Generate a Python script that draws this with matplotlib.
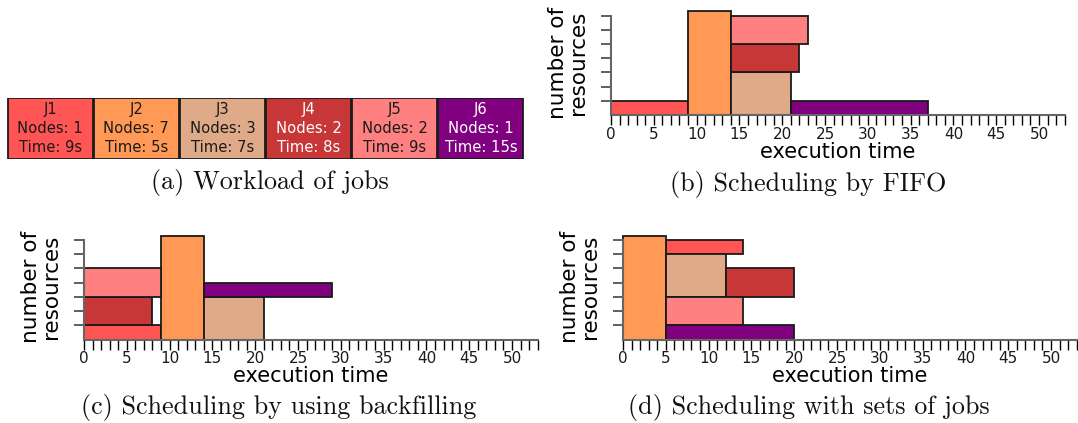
import matplotlib
matplotlib.use('Agg')
import matplotlib.pyplot as plt

# jobs of the workload
jobs = ['J1', 'J2', 'J3', 'J4', 'J5', 'J6']
nodes = [1, 7, 3, 2, 2, 1]
times = [9, 5, 7, 8, 9, 15]
colors = ['#ff5555', '#ff9955', '#deaa87', '#c83737', '#ff8080', '#800080']
text_colors = ['#1a1a1a', '#1a1a1a', '#1a1a1a', 'white', '#1a1a1a', 'white']

# drawn bar heights (J2 is drawn a bit taller than 7)
heights = [1, 7.3, 3, 2, 2, 1]

# (b) FIFO
fifo_start = [0, 9, 14, 14, 14, 21]
fifo_len = [9, 5, 7, 8, 9, 16]
fifo_bottom = [0, 0, 0, 3, 5, 0]

# (c) backfilling
bf_start = [0, 9, 14, 0, 0, 14]
bf_len = [9, 5, 7, 8, 9, 15]
bf_bottom = [0, 0, 0, 1, 3, 3]

# (d) sets of jobs
set_start = [5, 0, 5, 12, 5, 5]
set_len = [9, 5, 7, 8, 9, 15]
set_bottom = [6, 0, 3, 3, 1, 0]

captions = ['(a) Workload of jobs', '(b) Scheduling by FIFO',
            '(c) Scheduling by using backfilling', '(d) Scheduling with sets of jobs']

W, H = 1078, 423


def rect(x0, y_bottom, w, h):
    return [x0 / W, (H - y_bottom) / H, w / W, h / H]


def draw_schedule(ax, start, length, bottom):
    for i in range(len(jobs)):
        ax.barh(bottom[i], length[i], height=heights[i], left=start[i], align='edge',
                color=colors[i], edgecolor='#1a1a1a', linewidth=1.3, clip_on=False)
    ax.set_xlim(0, 53)
    ax.set_ylim(0, 7.35)
    ax.set_xticks(range(0, 54))
    ax.set_xticklabels([str(t) if t % 5 == 0 else '' for t in range(0, 54)])
    ax.set_yticks(range(1, 8))
    ax.set_yticklabels([])
    ax.tick_params(axis='x', direction='out', length=7, width=1, color='black',
                   labelsize=11, pad=1.5, labelcolor='#1a1a1a')
    ax.tick_params(axis='y', direction='out', length=7, width=1.2, color='#444444')
    for s in ['top', 'right']:
        ax.spines[s].set_visible(False)
    ax.spines['left'].set_bounds(0, 7)
    ax.spines['left'].set_color('#666666')
    ax.spines['bottom'].set_color('#666666')
    ax.spines['left'].set_linewidth(1.5)
    ax.spines['bottom'].set_linewidth(1.5)
    ax.set_xlabel('execution time', fontsize=15, labelpad=0)
    ax.set_ylabel('number of\nresources', fontsize=15.5, labelpad=6, linespacing=1.0)


fig = plt.figure(figsize=(W / 100, H / 100), dpi=100)
plt.rcParams['font.family'] = 'DejaVu Sans'

# (a) workload boxes
ax_a = fig.add_axes(rect(7, 159, 517, 61))
for i in range(len(jobs)):
    ax_a.bar(i + 0.5, 1, width=0.985, color=colors[i], edgecolor='#1a1a1a', linewidth=1.3)
    ax_a.text(i + 0.5, 0.5, '%s\nNodes: %d\nTime: %ds' % (jobs[i], nodes[i], times[i]),
              ha='center', va='center', fontsize=10.6, color=text_colors[i], linespacing=1.3)
ax_a.set_xlim(0, 6)
ax_a.set_ylim(0, 1)
ax_a.axis('off')

ax_b = fig.add_axes(rect(611, 115, 453.7, 104.4))
draw_schedule(ax_b, fifo_start, fifo_len, fifo_bottom)

ax_c = fig.add_axes(rect(84, 339.5, 453.7, 104.4))
draw_schedule(ax_c, bf_start, bf_len, bf_bottom)

ax_d = fig.add_axes(rect(623, 339.5, 453.7, 104.4))
draw_schedule(ax_d, set_start, set_len, set_bottom)

cap_pos = [(269.5, 182), (808.5, 184), (278.5, 407), (808.5, 407)]
for (cx, cy), cap in zip(cap_pos, captions):
    fig.text(cx / W, 1 - cy / H, cap, ha='center', va='center', fontsize=18.8,
             family='cmr10', color='#111111')

fig.savefig('out.png', dpi=100)
